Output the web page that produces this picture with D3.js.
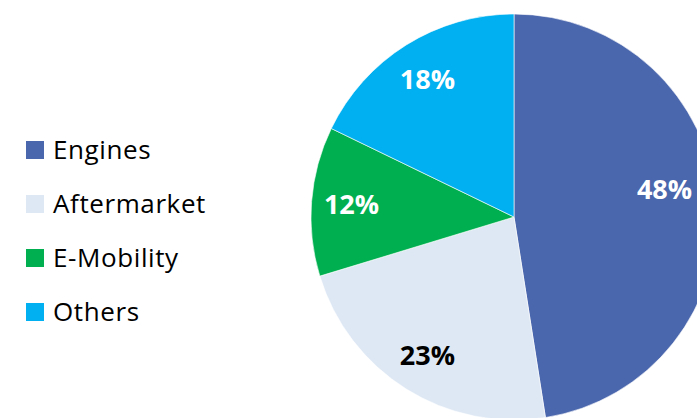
<!DOCTYPE html>
<html>
<head>
<meta charset="utf-8">
<script src="https://cdn.jsdelivr.net/npm/d3@7"></script>
<style>
  body { margin: 0; background: #fff; }
  svg { display: block; }
</style>
</head>
<body>
<div id="chart"></div>
<script>
const categories = ["Engines", "Aftermarket", "E-Mobility", "Others"]
const shares = [48, 23, 12, 18]
const colors = ["#4A66AC", "#DEE8F4", "#00B050", "#00B0F0"]
const labelColors = ["#fff", "#000", "#fff", "#fff"]

const width = 697, height = 418
const cx = 514, cy = 217, radius = 203
const labelRadius = 163
// Engines label pulled inward so it fits inside the picture
const labelNudge = {Engines: [-12, -15]}

const data = categories.map((c, i) => ({name: c, value: shares[i], color: colors[i], text: labelColors[i]}))

const svg = d3.select("#chart")
  .append("svg")
  .attr("width", width)
  .attr("height", height)
  .attr("viewBox", [0, 0, width, height])

const pie = d3.pie()
  .sort(null)
  .value(d => d.value)

const arc = d3.arc().innerRadius(0).outerRadius(radius)
const labelArc = d3.arc().innerRadius(labelRadius).outerRadius(labelRadius)

const arcs = pie(data)

const g = svg.append("g")
  .attr("transform", `translate(${cx},${cy})`)

g.selectAll("path")
  .data(arcs)
  .join("path")
  .attr("d", arc)
  .attr("fill", d => d.data.color)
  .attr("stroke", "#fff")
  .attr("stroke-width", 0.6)

g.selectAll("text")
  .data(arcs)
  .join("text")
  .attr("transform", d => {
    const [x, y] = labelArc.centroid(d)
    const n = labelNudge[d.data.name] || [0, 0]
    return `translate(${x + n[0]},${y + n[1]})`
  })
  .attr("text-anchor", "middle")
  .attr("dy", "0.36em")
  .attr("font-family", "'Open Sans', sans-serif")
  .attr("font-weight", "bold")
  .attr("font-size", 27)
  .attr("fill", d => d.data.text)
  .text(d => d.data.value + "%")

const legend = svg.append("g")
  .attr("font-family", "'Open Sans', sans-serif")
  .attr("font-size", 26)

const ly = d3.scalePoint()
  .domain(categories)
  .range([150, 312])

const item = legend.selectAll("g")
  .data(data)
  .join("g")
  .attr("transform", d => `translate(26,${ly(d.name)})`)

item.append("rect")
  .attr("x", 0)
  .attr("y", -9)
  .attr("width", 18)
  .attr("height", 18)
  .attr("fill", d => d.color)

item.append("text")
  .attr("x", 27)
  .attr("y", 9)
  .attr("letter-spacing", 0.6)
  .attr("fill", "#000")
  .text(d => d.name)
</script>
</body>
</html>
